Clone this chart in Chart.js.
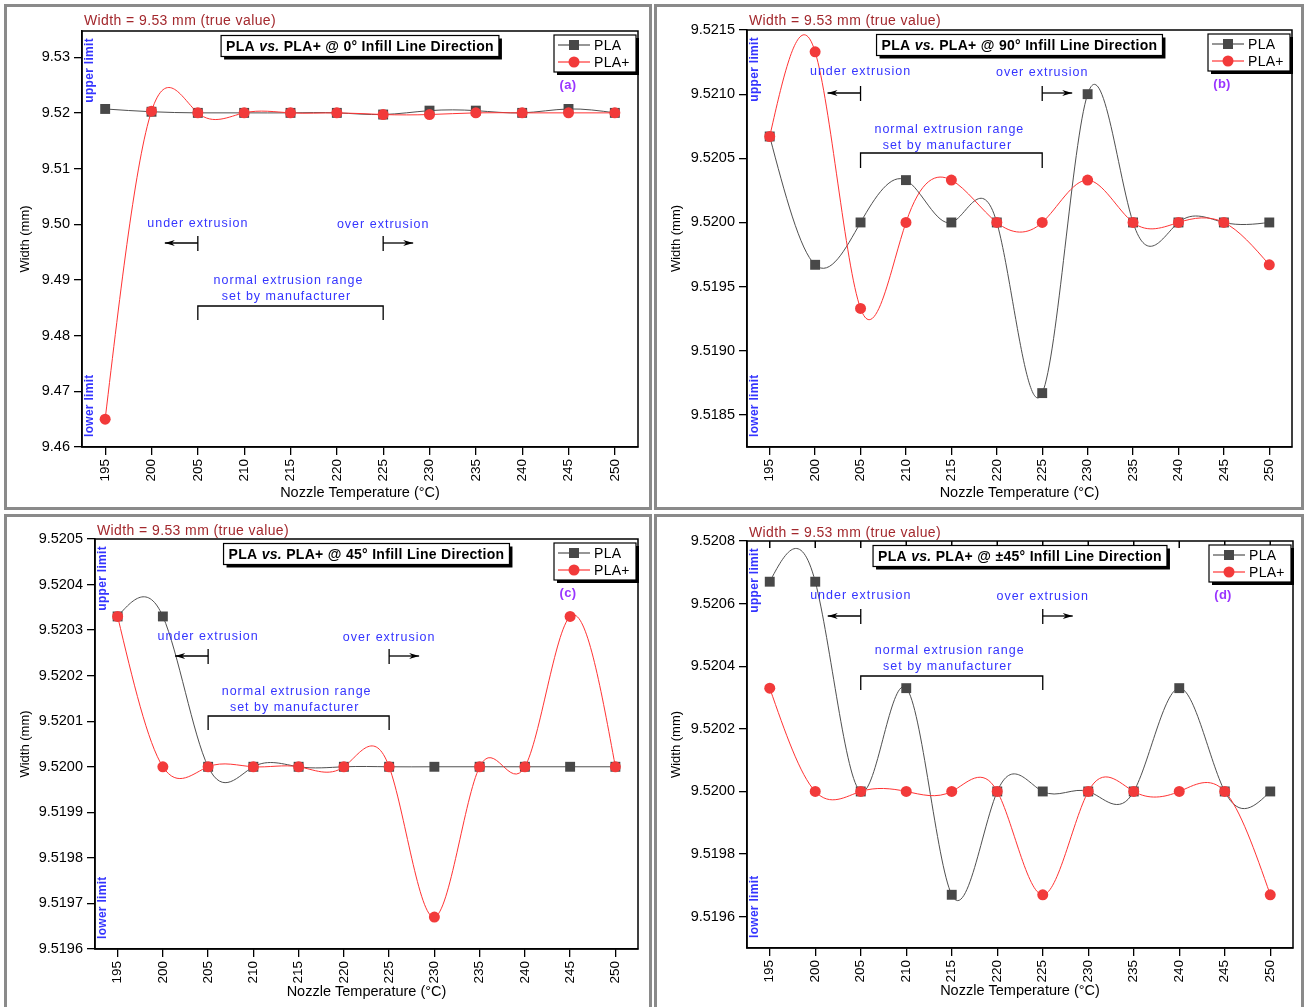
<!DOCTYPE html>
<html>
<head>
<meta charset="utf-8">
<script src="https://cdn.jsdelivr.net/npm/chart.js@4.4.0/dist/chart.umd.min.js"></script>
<style>
  body { margin: 0; background: #fff; width: 1307px; height: 1007px; position: relative; overflow: hidden; }
  canvas { position: absolute; }
</style>
</head>
<body>
<canvas id="ca" width="648" height="506" style="left:4px;top:4px"></canvas>
<canvas id="cb" width="650" height="506" style="left:654px;top:4px"></canvas>
<canvas id="cc" width="648" height="500" style="left:4px;top:514px"></canvas>
<canvas id="cd" width="650" height="500" style="left:654px;top:514px"></canvas>
<script>
// nozzle temperatures (x categories / tick labels)
const temps = [195, 200, 205, 210, 215, 220, 225, 230, 235, 240, 245, 250];

// (a) 0 deg infill
const plaA  = [9.5207, 9.5202, 9.5200, 9.5200, 9.5200, 9.5200, 9.5197, 9.5204, 9.5204, 9.5200, 9.5207, 9.5200];
const plusA = [9.4650, 9.5203, 9.5200, 9.5200, 9.5200, 9.5200, 9.5197, 9.5197, 9.5200, 9.5200, 9.5200, 9.5200];
const yTicksA = [9.46, 9.47, 9.48, 9.49, 9.50, 9.51, 9.52, 9.53];

// (b) 90 deg infill
const plaB  = [9.52067, 9.51967, 9.52000, 9.52033, 9.52000, 9.52000, 9.51867, 9.52100, 9.52000, 9.52000, 9.52000, 9.52000];
const plusB = [9.52067, 9.52133, 9.51933, 9.52000, 9.52033, 9.52000, 9.52000, 9.52033, 9.52000, 9.52000, 9.52000, 9.51967];
const yTicksB = [9.5185, 9.5190, 9.5195, 9.5200, 9.5205, 9.5210, 9.5215];

// (c) 45 deg infill
const plaC  = [9.52033, 9.52033, 9.52000, 9.52000, 9.52000, 9.52000, 9.52000, 9.52000, 9.52000, 9.52000, 9.52000, 9.52000];
const plusC = [9.52033, 9.52000, 9.52000, 9.52000, 9.52000, 9.52000, 9.52000, 9.51967, 9.52000, 9.52000, 9.52033, 9.52000];
const yTicksC = [9.5196, 9.5197, 9.5198, 9.5199, 9.5200, 9.5201, 9.5202, 9.5203, 9.5204, 9.5205];

// (d) +/-45 deg infill
const plaD  = [9.52067, 9.52067, 9.52000, 9.52033, 9.51967, 9.52000, 9.52000, 9.52000, 9.52000, 9.52033, 9.52000, 9.52000];
const plusD = [9.52033, 9.52000, 9.52000, 9.52000, 9.52000, 9.52000, 9.51967, 9.52000, 9.52000, 9.52000, 9.52000, 9.51967];
const yTicksD = [9.5196, 9.5198, 9.5200, 9.5202, 9.5204, 9.5206, 9.5208];

const FONT = '"Liberation Sans", Arial, sans-serif';
const BLUE = '#3434ff';

function vline(ctx, x, y0, y1) { ctx.beginPath(); ctx.moveTo(x, y0); ctx.lineTo(x, y1); ctx.stroke(); }
function hline(ctx, x0, x1, y) { ctx.beginPath(); ctx.moveTo(x0, y); ctx.lineTo(x1, y); ctx.stroke(); }

function arrow(ctx, x0, x1, y) {
  hline(ctx, x0, x1, y);
  const d = Math.sign(x1 - x0);
  ctx.beginPath();
  ctx.moveTo(x1, y);
  ctx.lineTo(x1 - d * 10, y - 3);
  ctx.lineTo(x1 - d * 7, y);
  ctx.lineTo(x1 - d * 10, y + 3);
  ctx.closePath();
  ctx.fill();
}

function spaced(ctx, px) { if ('letterSpacing' in ctx) ctx.letterSpacing = px + 'px'; }

// natural cubic spline through the point elements (Origin style "spline" connector)
const spline = {
  id: 'spline',
  beforeDatasetDraw(chart, args) {
    const pts = args.meta.data.map(p => ({ x: p.x, y: p.y }));
    const n = pts.length;
    if (n < 2) return;
    const h = [];
    for (let i = 0; i < n - 1; i++) h.push(pts[i + 1].x - pts[i].x);
    const M = new Array(n).fill(0);
    const cp = new Array(n).fill(0), dp = new Array(n).fill(0);
    for (let i = 1; i < n - 1; i++) {
      const A = h[i - 1], B = 2 * (h[i - 1] + h[i]), C = h[i];
      const D = 6 * ((pts[i + 1].y - pts[i].y) / h[i] - (pts[i].y - pts[i - 1].y) / h[i - 1]);
      const den = B - A * cp[i - 1];
      cp[i] = C / den;
      dp[i] = (D - A * dp[i - 1]) / den;
    }
    for (let i = n - 2; i >= 1; i--) M[i] = dp[i] - cp[i] * M[i + 1];

    const ds = chart.data.datasets[args.index];
    const ctx = chart.ctx, a = chart.chartArea;
    ctx.save();
    ctx.beginPath();
    ctx.rect(a.left, a.top, a.right - a.left, a.bottom - a.top);
    ctx.clip();
    ctx.strokeStyle = ds.borderColor;
    ctx.lineWidth = ds.borderWidth;
    ctx.beginPath();
    ctx.moveTo(pts[0].x, pts[0].y);
    for (let i = 0; i < n - 1; i++) {
      const p0 = pts[i], p1 = pts[i + 1], hh = h[i];
      const s = (p1.y - p0.y) / hh;
      const d0 = s - hh * (2 * M[i] + M[i + 1]) / 6;
      const d1 = s + hh * (M[i] + 2 * M[i + 1]) / 6;
      ctx.bezierCurveTo(p0.x + hh / 3, p0.y + d0 * hh / 3, p1.x - hh / 3, p1.y - d1 * hh / 3, p1.x, p1.y);
    }
    ctx.stroke();
    ctx.restore();
  }
};

// panel frame, plot box and all the text annotations
const deco = {
  id: 'deco',
  beforeDraw(chart) {
    const ctx = chart.ctx;
    ctx.save();
    ctx.fillStyle = '#fff';
    ctx.fillRect(0, 0, chart.width, chart.height);
    ctx.strokeStyle = '#8a8a8a';
    ctx.lineWidth = 3;
    ctx.strokeRect(1.5, 1.5, chart.width - 3, chart.height - 3);
    ctx.restore();
  },
  afterDraw(chart, args, o) {
    const ctx = chart.ctx;
    const a = chart.chartArea;
    const xs = chart.scales.x;
    ctx.save();

    ctx.strokeStyle = '#000';
    ctx.lineWidth = 1.5;
    ctx.strokeRect(a.left, a.top, a.right - a.left, a.bottom - a.top);
    if (o.topTicks) {
      xs.ticks.forEach(t => vline(ctx, xs.getPixelForValue(t.value), a.top, a.top + 7));
    }

    // true value note
    ctx.font = '14px ' + FONT;
    spaced(ctx, 0.4);
    ctx.fillStyle = '#a3282d';
    ctx.textAlign = 'left';
    ctx.textBaseline = 'middle';
    ctx.fillText('Width = 9.53 mm (true value)', a.left + 2, a.top + o.noteY);

    // title box
    const parts = [['PLA ', false], ['vs.', true], [' PLA+ @ ' + o.angle + ' Infill Line Direction', false]];
    spaced(ctx, 0.3);
    let tw = 0;
    parts.forEach(p => { ctx.font = (p[1] ? 'italic ' : '') + 'bold 14px ' + FONT; tw += ctx.measureText(p[0]).width; });
    const cx = (a.left + a.right) / 2, ty = a.top + 15;
    const bw = tw + 10, bh = 21, bx = cx - bw / 2, by = ty - bh / 2;
    ctx.fillStyle = '#000';
    ctx.fillRect(bx + 3, by + 3, bw, bh);
    ctx.fillStyle = '#fff';
    ctx.fillRect(bx, by, bw, bh);
    ctx.lineWidth = 1.2;
    ctx.strokeRect(bx, by, bw, bh);
    ctx.fillStyle = '#000';
    let tx = bx + 5;
    parts.forEach(p => {
      ctx.font = (p[1] ? 'italic ' : '') + 'bold 14px ' + FONT;
      ctx.fillText(p[0], tx, ty + 1);
      tx += ctx.measureText(p[0]).width;
    });

    // legend box
    spaced(ctx, 0.3);
    const lw = 82, lh = 37, lx = a.right - 2 - lw, ly = a.top + 4;
    ctx.fillStyle = '#000';
    ctx.fillRect(lx + 3, ly + 3, lw, lh);
    ctx.fillStyle = '#fff';
    ctx.fillRect(lx, ly, lw, lh);
    ctx.strokeRect(lx, ly, lw, lh);
    const ds = chart.data.datasets;
    [ds[0], ds[1]].forEach((d, i) => {
      const yy = ly + 10 + i * 17;
      ctx.strokeStyle = d.borderColor;
      ctx.lineWidth = 1.2;
      hline(ctx, lx + 4, lx + 36, yy);
      ctx.fillStyle = d.pointBackgroundColor;
      if (d.pointStyle === 'rect') ctx.fillRect(lx + 15, yy - 5, 10, 10);
      else { ctx.beginPath(); ctx.arc(lx + 20, yy, 5.5, 0, Math.PI * 2); ctx.fill(); }
      ctx.fillStyle = '#000';
      ctx.font = '14px ' + FONT;
      ctx.fillText(d.label, lx + 40, yy + 1);
    });

    // panel tag
    ctx.font = 'bold 13px ' + FONT;
    ctx.fillStyle = '#9a35ff';
    ctx.textAlign = 'center';
    ctx.fillText(o.tag, lx + 14, a.top + 54);

    // limits
    spaced(ctx, 0.3);
    ctx.font = 'bold 12px ' + FONT;
    ctx.fillStyle = BLUE;
    ctx.save();
    ctx.translate(a.left + 8, a.top + 7);
    ctx.rotate(-Math.PI / 2);
    ctx.textAlign = 'right';
    ctx.fillText('upper limit', 0, 0);
    ctx.restore();
    ctx.save();
    ctx.translate(a.left + 8, a.bottom - 10);
    ctx.rotate(-Math.PI / 2);
    ctx.textAlign = 'left';
    ctx.fillText('lower limit', 0, 0);
    ctx.restore();

    // extrusion range marks
    const e = o.ext;
    const x205 = xs.getPixelForValue(205), x225 = xs.getPixelForValue(225), x215 = xs.getPixelForValue(215);
    ctx.font = '12.5px ' + FONT;
    spaced(ctx, 1);
    ctx.fillStyle = BLUE;
    ctx.textAlign = 'center';
    ctx.fillText('under extrusion', x205, a.top + e.text);
    ctx.fillText('over extrusion', x225, a.top + e.text + 1);
    ctx.fillText('normal extrusion range', x215 - 2, a.top + e.n1);
    ctx.fillText('set by manufacturer', x215 - 4, a.top + e.n2);
    spaced(ctx, 0);
    ctx.strokeStyle = '#000';
    ctx.fillStyle = '#000';
    ctx.lineWidth = 1.3;
    const ay = a.top + e.arrow;
    vline(ctx, x205, ay - 7, ay + 8);
    arrow(ctx, x205, x205 - 33, ay);
    vline(ctx, x225, ay - 7, ay + 8);
    arrow(ctx, x225, x225 + 30, ay);
    const br = a.top + e.bracket, lg = a.top + e.legs;
    ctx.beginPath();
    ctx.moveTo(x205, lg); ctx.lineTo(x205, br); ctx.lineTo(x225, br); ctx.lineTo(x225, lg);
    ctx.stroke();

    ctx.restore();
  }
};

function makeChart(id, c) {
  const cv = document.getElementById(id);
  const W = cv.width, H = cv.height;
  const series = (vals) => temps.map((t, i) => ({ x: t, y: vals[i] }));
  new Chart(cv, {
    type: 'line',
    data: {
      datasets: [
        { label: 'PLA', data: series(c.pla), borderColor: '#505050', borderWidth: 1, showLine: false,
          pointStyle: 'rect', pointRadius: 7, pointBackgroundColor: '#484848', pointBorderWidth: 0, order: 2 },
        { label: 'PLA+', data: series(c.plus), borderColor: '#ff3434', borderWidth: 1, showLine: false,
          pointStyle: 'circle', pointRadius: 5.5, pointBackgroundColor: '#f23a3a', pointBorderWidth: 0, order: 1 }
      ]
    },
    options: {
      responsive: false,
      animation: false,
      devicePixelRatio: 1,
      events: [],
      layout: { padding: { left: c.padL, top: c.area.top, right: W - c.area.right, bottom: c.padB } },
      plugins: { legend: { display: false }, tooltip: { enabled: false }, deco: c.deco },
      scales: {
        x: {
          type: 'linear', min: 192.5, max: 252.5,
          afterBuildTicks: s => { s.ticks = temps.map(v => ({ value: v })); },
          afterFit: s => { s.height = H - c.padB - c.area.bottom; },
          ticks: { autoSkip: false, minRotation: 90, maxRotation: 90, padding: 4, color: '#000',
                   font: { family: FONT, size: 13.5 } },
          grid: { drawOnChartArea: false, tickLength: 8, color: '#000', lineWidth: 1.3 },
          border: { color: '#000', width: 1.5 },
          title: { display: true, text: 'Nozzle Temperature (°C)', color: '#000', padding: { top: 4, bottom: 4 },
                   font: { family: FONT, size: 14.5 } }
        },
        y: {
          min: c.yMin, max: c.yMax,
          afterBuildTicks: s => { s.ticks = c.yTicks.map(v => ({ value: v })); },
          afterFit: s => { s.width = c.area.left - c.padL; },
          ticks: { padding: 4, color: '#000', font: { family: FONT, size: 14.5 },
                   callback: v => v.toFixed(c.dec) },
          grid: { drawOnChartArea: false, tickLength: 8, color: '#000', lineWidth: 1.3 },
          border: { color: '#000', width: 1.5 },
          title: { display: true, text: 'Width (mm)', color: '#000', padding: { top: 4, bottom: 4 },
                   font: { family: FONT, size: 13 } }
        }
      }
    },
    plugins: [spline, deco]
  });
}

makeChart('ca', {
  pla: plaA, plus: plusA, yTicks: yTicksA, dec: 2, yMin: 9.46, yMax: 9.5347,
  area: { left: 78, right: 634, top: 27, bottom: 443 }, padL: 10, padB: 4,
  deco: { tag: '(a)', angle: '0°', noteY: -10,
          ext: { text: 193, arrow: 212, n1: 250, n2: 266, bracket: 275, legs: 289 } }
});
makeChart('cb', {
  pla: plaB, plus: plusB, yTicks: yTicksB, dec: 4, yMin: 9.51825, yMax: 9.5215,
  area: { left: 93, right: 638, top: 26, bottom: 443 }, padL: 11, padB: 4,
  deco: { tag: '(b)', angle: '90°', noteY: -9,
          ext: { text: 42, arrow: 63, n1: 100, n2: 116, bracket: 123, legs: 138 } }
});
makeChart('cc', {
  pla: plaC, plus: plusC, yTicks: yTicksC, dec: 4, yMin: 9.5196, yMax: 9.5205,
  area: { left: 91, right: 634, top: 25, bottom: 435 }, padL: 10, padB: 9,
  deco: { tag: '(c)', angle: '45°', noteY: -8,
          ext: { text: 98, arrow: 117, n1: 153, n2: 169, bracket: 177, legs: 191 } }
});
makeChart('cd', {
  pla: plaD, plus: plusD, yTicks: yTicksD, dec: 4, yMin: 9.5195, yMax: 9.5208,
  area: { left: 93, right: 639, top: 27, bottom: 434 }, padL: 11, padB: 10,
  deco: { tag: '(d)', angle: '±45°', noteY: -8, topTicks: true,
          ext: { text: 55, arrow: 75, n1: 110, n2: 126, bracket: 135, legs: 149 } }
});
</script>
</body>
</html>
